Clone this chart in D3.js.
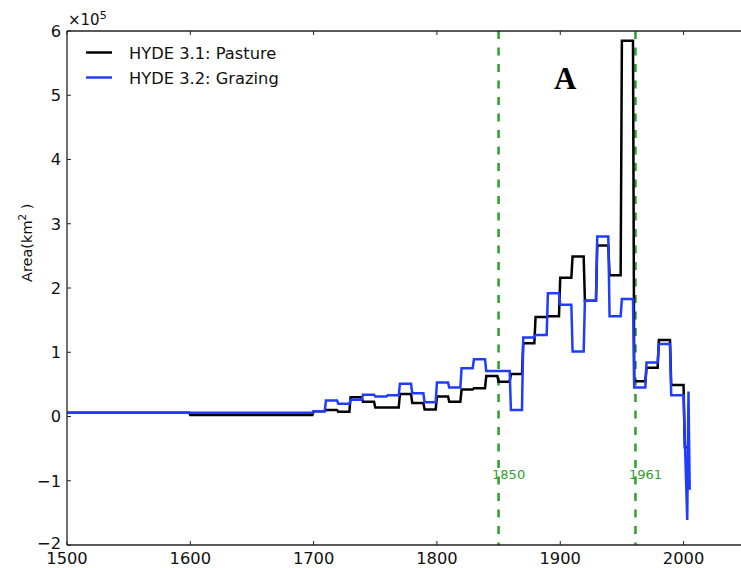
<!DOCTYPE html>
<html><head><meta charset="utf-8">
<script src="https://cdn.jsdelivr.net/npm/d3@7/dist/d3.min.js"></script>
<style>body{margin:0;background:#fff}svg{display:block}</style>
</head><body>
<script>
// Decade start years (values hold until the next start)
const years = [1500,1600,1700,1710,1720,1730,1740,1750,1760,1770,1780,1790,1800,1810,1820,1830,1840,1850,1860,1870,1880,1890,1900,1910,1920,1930,1940,1950,1960,1970,1980,1990];
const pasture = [0.06,0.025,0.08,0.10,0.075,0.30,0.23,0.14,0.14,0.35,0.21,0.11,0.31,0.23,0.42,0.44,0.63,0.54,0.66,1.14,1.55,1.56,2.16,2.49,1.80,2.66,2.20,5.85,0.55,0.76,1.19,0.49];
const grazing = [0.06,0.06,0.08,0.25,0.20,0.26,0.34,0.31,0.33,0.51,0.36,0.22,0.53,0.45,0.75,0.89,0.71,0.71,0.10,1.23,1.27,1.92,1.74,1.01,1.80,2.80,1.56,1.83,0.45,0.84,1.13,0.33];
// Annual tail after 2000
const pastureTailYears = [2000,2001,2005];
const pastureTail = [0.49,-0.48,-0.48];
const grazingTailYears = [2000,2003,2004,2005];
const grazingTail = [0.33,-1.61,0.39,-1.14];
const markerYears = [1850,1961];
const xTicks = [1500,1600,1700,1800,1900,2000];
const yTicks = [-2,-1,0,1,2,3,4,5,6];
const seriesNames = ["HYDE 3.1: Pasture","HYDE 3.2: Grazing"];
const seriesColors = ["#000000","#1f3cff"];

const W = 741, H = 568;
const svg = d3.select("body").append("svg").attr("width",W).attr("height",H);
const x = d3.scaleLinear().domain([1500,2050]).range([67,745.2]);
const y = d3.scaleLinear().domain([-2,6]).range([545,31]);

function buildPoints(vals, tailYears, tailVals){
  const pts = [];
  for(let i=0;i<years.length;i++){
    const end = (i<years.length-1 ? years[i+1] : tailYears[0]) - 1;
    pts.push([years[i], vals[i]]);
    pts.push([end, vals[i]]);
  }
  tailYears.forEach((yr,i)=>pts.push([yr, tailVals[i]]));
  return pts;
}
const line = d3.line().x(d=>x(d[0])).y(d=>y(d[1]));

svg.append("clipPath").attr("id","clip").append("rect")
  .attr("x",67).attr("y",31).attr("width",W-67).attr("height",545-31);

const g = svg.append("g").attr("clip-path","url(#clip)");

// marker lines
markerYears.forEach(yr=>{
  g.append("line").attr("x1",x(yr)).attr("x2",x(yr)).attr("y1",y(6)).attr("y2",y(-2))
    .attr("stroke","#2ca02c").attr("stroke-width",2.5).attr("stroke-dasharray","8,8.5");
});

const series = [buildPoints(pasture,pastureTailYears,pastureTail), buildPoints(grazing,grazingTailYears,grazingTail)];
series.forEach((pts,i)=>{
  g.append("path").attr("d",line(pts)).attr("fill","none")
    .attr("stroke",seriesColors[i]).attr("stroke-width",2.5).attr("stroke-linejoin","miter");
});

// marker labels
markerYears.forEach(yr=>{
  svg.append("text").attr("x",x(yr)-6.5).attr("y",479).attr("fill","#2ca02c")
    .attr("font-family","DejaVu Sans").attr("font-size",13).text(String(yr));
});

// axes frame
const axisColor = "#222";
svg.append("line").attr("x1",67).attr("x2",W).attr("y1",31).attr("y2",31).attr("stroke",axisColor).attr("stroke-width",1.3);
svg.append("line").attr("x1",67).attr("x2",W).attr("y1",545).attr("y2",545).attr("stroke",axisColor).attr("stroke-width",1.3);
svg.append("line").attr("x1",67).attr("x2",67).attr("y1",31).attr("y2",545).attr("stroke",axisColor).attr("stroke-width",1.3);

// x ticks (inward)
const xa = svg.append("g");
xTicks.forEach(t=>{
  xa.append("line").attr("x1",x(t)).attr("x2",x(t)).attr("y1",545).attr("y2",541).attr("stroke",axisColor);
  xa.append("line").attr("x1",x(t)).attr("x2",x(t)).attr("y1",31).attr("y2",35).attr("stroke",axisColor);
  xa.append("text").attr("x",x(t)).attr("y",563.5).attr("text-anchor","middle")
    .attr("font-family","DejaVu Sans").attr("font-size",16.3).attr("fill","#111").text(t);
});
const ya = svg.append("g");
yTicks.forEach(t=>{
  ya.append("line").attr("x1",67).attr("x2",71).attr("y1",y(t)).attr("y2",y(t)).attr("stroke",axisColor);
  ya.append("text").attr("x",61).attr("y",y(t)+(t===-2?3.5:5.8)).attr("text-anchor","end")
    .attr("font-family","DejaVu Sans").attr("font-size",16.3).attr("fill","#111")
    .text(t<0 ? "\u2212"+Math.abs(t) : String(t));
});
// multiplier
const mult = svg.append("text").attr("x",68).attr("y",25).attr("font-family","DejaVu Sans").attr("font-size",15).attr("fill","#111");
mult.append("tspan").text("\u00d710");
mult.append("tspan").attr("dy",-6).attr("font-size",11).text("5");

// y label
const yl = svg.append("text").attr("transform","translate(32,282) rotate(-90)")
  .attr("font-family","DejaVu Sans").attr("font-size",14.5).attr("fill","#111");
yl.append("tspan").text("Area(km");
yl.append("tspan").attr("dy",-6).attr("font-size",10.5).text("2");
yl.append("tspan").attr("dy",6).text(" )");

// legend
seriesNames.forEach((n,i)=>{
  const ly = 52.5 + i*25;
  svg.append("line").attr("x1",86).attr("x2",112).attr("y1",ly).attr("y2",ly)
    .attr("stroke",seriesColors[i]).attr("stroke-width",2.5);
  svg.append("text").attr("x",129).attr("y",ly+6).attr("font-family","DejaVu Sans")
    .attr("font-size",16.3).attr("fill","#111").text(n);
});

// panel label
svg.append("text").attr("x",554).attr("y",89).attr("font-family","Liberation Serif")
  .attr("font-weight","bold").attr("font-size",31).attr("fill","#000").text("A");
</script>
</body></html>
